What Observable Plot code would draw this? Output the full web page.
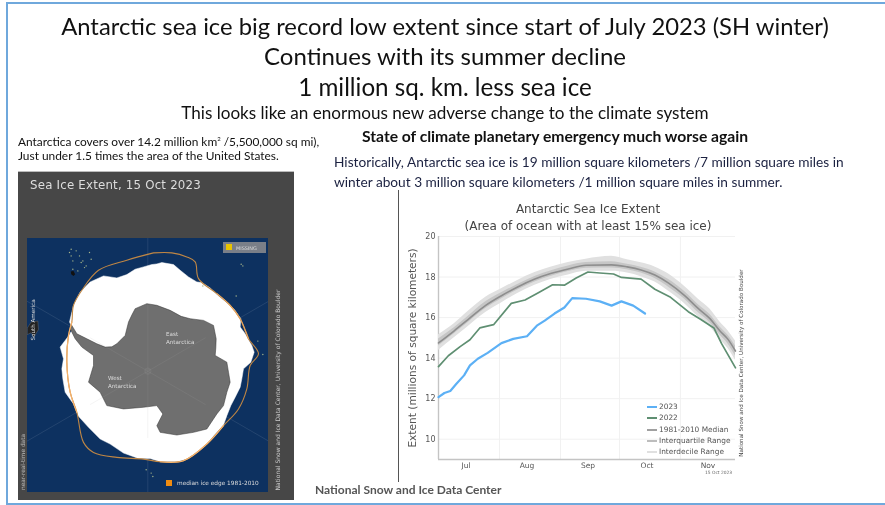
<!DOCTYPE html>
<html><head><meta charset="utf-8">
<script src="https://cdn.jsdelivr.net/npm/d3@7"></script>
<script src="https://cdn.jsdelivr.net/npm/@observablehq/plot@0.6"></script>
<style>
html,body{margin:0;padding:0;background:#fff;}
#page{position:relative;width:885px;height:505px;overflow:hidden;background:#fff;font-family:Lato,sans-serif;filter:blur(0.4px);}
#page>div{position:absolute;white-space:nowrap;}
.c{left:0;width:890px;text-align:center;color:#111;line-height:1;}
.dj{font-family:"DejaVu Sans",sans-serif;}
</style></head><body><div id="page"></div>
<script>
// --- line chart data (millions of square km) ---
const dates2023=["07-01","07-04","07-07","07-10","07-14","07-17","07-21","07-26","08-02","08-08","08-15","08-20","08-24","08-29","09-03","09-07","09-14","09-21","09-27","10-02","10-08","10-14"];
const extent2023=[12.08,12.28,12.38,12.72,13.15,13.64,13.97,14.26,14.74,14.95,15.08,15.6,15.85,16.2,16.5,16.96,16.93,16.8,16.59,16.8,16.59,16.2];
const dates2022=["07-01","07-06","07-12","07-17","07-22","07-29","08-07","08-14","08-21","08-28","09-03","09-09","09-15","09-21","09-28","10-02","10-12","10-19","10-27","11-05","11-11","11-18","11-22","11-29"];
const extent2022=[13.58,14.12,14.57,14.91,15.49,15.65,16.7,16.87,17.24,17.62,17.6,17.95,18.25,18.2,18.15,17.98,17.9,17.4,17.0,16.29,15.93,15.49,14.7,13.52];
const datesClim=["07-01","07-09","07-16","07-25","08-02","08-10","08-19","08-27","09-05","09-14","09-27","10-05","10-12","10-19","10-26","11-03","11-10","11-16","11-21","11-25","11-29"];
const median=[14.75,15.35,15.9,16.6,17.08,17.5,17.9,18.17,18.4,18.58,18.6,18.5,18.35,18.1,17.7,17.1,16.45,15.95,15.35,14.95,14.35];
const iqLow=[14.6,15.2,15.75,16.45,16.92,17.35,17.76,18.03,18.27,18.43,18.45,18.36,18.2,17.93,17.5,16.92,16.25,15.75,15.15,14.72,14.1];
const iqHigh=[14.95,15.5,16.05,16.78,17.22,17.62,18.03,18.3,18.55,18.72,18.76,18.63,18.48,18.25,17.88,17.3,16.65,16.15,15.55,15.15,14.6];
const decLow=[14.38,15.0,15.55,16.25,16.72,17.18,17.6,17.88,18.1,18.28,18.28,18.2,18.02,17.75,17.3,16.7,16.05,15.55,14.95,14.5,13.9];
const decHigh=[15.15,15.7,16.3,17.0,17.42,17.82,18.22,18.48,18.72,18.88,19.02,18.85,18.7,18.5,18.15,17.55,16.92,16.42,15.8,15.38,14.85];
const monthStarts=["08-01","09-01","10-01","11-01"];
const monthLabels=["07-15","08-15","09-15","10-15","11-15"];
const yTicks=[10,12,14,16,18,20];
const legendLabels=["2023","2022","1981-2010 Median","Interquartile Range","Interdecile Range"];

// --- map outlines, polar-grid km east / north of the South Pole ---
const landX=[-2280,-2130,-1830,-1530,-1280,-1080,-930,-680,-580,-480,-380,-30,270,670,1000,1270,1670,1970,2050,2040,2020,2370,2420,2470,2370,2270,2070,1770,1370,870,370,270,450,270,-130,-730,-1230,-1430,-1780,-1630,-1630,-1980,-2180,-2330];
const landY=[1370,1120,970,820,720,730,820,1070,1470,1680,1870,2020,1970,1820,1640,1570,1520,1370,970,700,470,270,-30,-330,-630,-1030,-1280,-1730,-1830,-1910,-1830,-1630,-1280,-1030,-1080,-1130,-1030,-630,-330,170,470,720,970,1270];
const iceX=[120,270,420,770,970,1220,1470,1620,1870,2120,2370,2590,2790,2770,2920,3120,3190,3090,2870,2820,2770,2620,2490,2370,2270,2020,1770,1520,1170,870,370,70,-280,-730,-1130,-1430,-1780,-2080,-2230,-2480,-2550,-2580,-2530,-2630,-2480,-2380,-2250,-2350,-2230,-2030,-1730,-1330,-930,-630,-380,-130];
const iceY=[3190,3210,3250,3190,3020,2820,2670,2650,2490,2250,2050,1850,1570,1320,1120,770,570,270,70,-230,-480,-780,-1030,-1330,-1610,-1880,-2180,-2400,-2630,-2710,-2710,-2610,-2610,-2450,-2180,-2030,-1680,-1350,-980,-630,-230,70,370,720,920,1050,1270,1470,1970,2370,2670,2850,2790,2890,3050,3120];
const edgeX=[170,720,1170,1420,1520,2070,2470,2770,3020,3320,3070,2970,2720,2270,1770,1070,370,-130,-930,-1630,-1930,-2130,-2330,-2430,-2380,-2280,-2230,-1980,-1480,-630,170];
const edgeY=[3540,3540,3420,3270,2770,2320,1970,1570,970,520,170,-530,-1130,-1630,-2180,-2680,-2710,-2630,-2580,-2430,-2130,-1230,-630,270,1070,1470,1970,2420,3020,3320,3540];
const islandX=[-2350,-2300,-2250,-2150,-2050,-1950,-1850,-2250,-2000,-1750,-2100,-1900,-2300,-1700,2800,2850,3300,3450,100,150,-50,1650,2650];
const islandY=[3550,3450,3300,3600,3450,3300,3150,3050,3250,3550,3000,3100,3650,3350,3200,3150,900,500,-3050,-3150,-2950,2550,2250];
const blobX=[-2310,-2230,-2180,-2230,-2300];
const blobY=[2980,3000,2900,2850,2900];
const spikeX=[-3610,-3500,-3300,-3280,-3420,-3500,-3610];
const spikeY=[1300,1470,1500,1250,1020,1150,1100];
const gridRadii=[1000,2000,3000,4000];
const gridBearings=[0,60,120,180,240,300];

const md=s=>new Date("2023-"+s+"T00:00:00Z");
const zip=(d,k)=>d.map((t,i)=>Object.fromEntries([["date",md(t)],...Object.entries(k).map(([n,a])=>[n,a[i]])]));
const pts=(X,Y)=>X.map((x,i)=>({x,y:Y[i]}));
const s2023=zip(dates2023,{v:extent2023}), s2022=zip(dates2022,{v:extent2022});
const clim=zip(datesClim,{m:median,a:iqLow,b:iqHigh,c:decLow,d:decHigh});
const edge=pts(edgeX,edgeY);
const page=document.getElementById("page");
function html(css,text,cls){const e=document.createElement("div");if(cls)e.className=cls;e.style.cssText=css;e.innerHTML=text;page.appendChild(e);return e;}

// frame
html("left:6px;top:2px;width:900px;height:499px;border-top:2px solid #6fa8dc;border-left:2px solid #6fa8dc;border-bottom:2px solid #6fa8dc;box-sizing:content-box;","");
// headline text
html("top:15px;font-size:23.8px;","Antarctic sea ice big record low extent since start of July 2023 (SH winter)","c");
html("top:44px;font-size:24px;","Continues with its summer decline","c");
html("top:75px;font-size:24.2px;","1 million sq. km. less sea ice","c");
html("top:104px;font-size:17.1px;","This looks like an enormous new adverse change to the climate system","c");
html("left:18px;top:134px;font-size:11.9px;color:#111;","Antarctica covers over 14.2 million km<sup style='font-size:6px;line-height:0'>2</sup> /5,500,000 sq mi),");
html("left:18px;top:148px;font-size:11.9px;color:#111;","Just under 1.5 times the area of the United States.");
html("left:362px;top:127px;font-size:15.7px;font-weight:700;color:#111;letter-spacing:-.02px;","State of climate planetary emergency much worse again");
html("left:334px;top:153px;font-size:13.7px;color:#1b2140;","Historically, Antarctic sea ice is 19 million square kilometers /7 million square miles in");
html("left:334px;top:173px;font-size:13.7px;color:#1b2140;","winter about 3 million square kilometers /1 million square miles in summer.");
html("left:315px;top:482px;font-size:12px;font-weight:700;color:#555;","National Snow and Ice Data Center");
html("left:398px;top:190px;width:1px;height:292px;background:#555;","");

// map panel
html("left:18px;top:171px;width:276px;height:329px;background:#474747;border-top:1px solid #bbb;box-sizing:border-box;","");
html("left:30px;top:178px;font-size:11.8px;color:#ddd;letter-spacing:.2px;","Sea Ice Extent, 15 Oct 2023","dj");

const spoke=(len,o)=>Plot.link(gridBearings,{x1:()=>0,y1:()=>0,x2:d=>len*Math.sin(d*Math.PI/180),y2:d=>len*Math.cos(d*Math.PI/180),strokeWidth:.6,clip:true,...o});
const mapPlot=Plot.plot({
  width:241,height:254,margin:0,
  x:{domain:[-3610,3620],axis:null},
  y:{domain:[-3630,3970],axis:null},
  style:{background:"#0d3160",display:"block"},
  marks:[
    Plot.dot(gridRadii,{x:()=>0,y:()=>0,r:d=>d/30,stroke:"#fff",strokeOpacity:.16,strokeWidth:.7,clip:true}),
    spoke(6000,{stroke:"#fff",strokeOpacity:.16}),
    Plot.line(pts(iceX,iceY),{x:"x",y:"y",fill:"#fff",stroke:"#fff",strokeWidth:.5,curve:"linear-closed"}),
    Plot.dot(gridRadii.slice(2,3),{x:()=>0,y:()=>0,r:d=>d/30,stroke:"#889",strokeOpacity:.14,strokeWidth:.6}),
    Plot.line(pts(landX,landY),{x:"x",y:"y",fill:"#6f6f6f",stroke:"#333",strokeWidth:.5,curve:"linear-closed"}),
    Plot.dot(gridRadii.slice(0,2),{x:()=>0,y:()=>0,r:d=>d/30,stroke:"#aaa",strokeOpacity:.22,strokeWidth:.6}),
    spoke(2000,{stroke:"#aaa",strokeOpacity:.22}),
    Plot.line(edge,{x:"x",y:"y",stroke:"#bf8644",strokeWidth:1.1,curve:"catmull-rom"}),
    Plot.line(edge.slice(21,26),{x:"x",y:"y",stroke:"#f6b26b",strokeWidth:1.2,curve:"catmull-rom"}),
    Plot.line(edge.slice(13,17),{x:"x",y:"y",stroke:"#f6b26b",strokeWidth:1.2,curve:"catmull-rom"}),
    Plot.line(edge.slice(5,9),{x:"x",y:"y",stroke:"#e5a45f",strokeWidth:1.2,curve:"catmull-rom"}),
    Plot.dot(pts(islandX,islandY),{x:"x",y:"y",r:.7,fill:"#a5b58a"}),
    Plot.line(pts(blobX,blobY),{x:"x",y:"y",fill:"#111",stroke:"none",curve:"linear-closed"}),
    Plot.line(pts(spikeX,spikeY),{x:"x",y:"y",fill:"#222",stroke:"#777",strokeWidth:.4,curve:"linear-closed"})
  ]});
const mapBox=html("left:27px;top:238px;width:241px;height:254px;","");
mapBox.appendChild(mapPlot);

const mapText="font-size:5.6px;color:#ddd;line-height:7.5px;text-align:left;";
html("left:166px;top:331px;"+mapText,"East<br>Antarctica","dj");
html("left:108px;top:375px;"+mapText,"West<br>Antarctica","dj");
html("left:223px;top:242px;width:43px;height:11px;background:#7a7f88;","");
html("left:226px;top:244px;width:6px;height:6px;background:#e8c400;","");
html("left:236px;top:245px;font-size:4.9px;color:#ddd;","MISSING","dj");
html("left:166px;top:480px;width:6px;height:6px;background:#f08c10;","");
html("left:177px;top:480px;font-size:5.8px;color:#ddd;","median ice edge 1981-2010","dj");
const rot=(cx,cy,size,color,text)=>html(`left:${cx}px;top:${cy}px;font-size:${size}px;color:${color};transform:translate(-50%,-50%) rotate(-90deg);`,text,"dj");
rot(33,320,5.6,"#ddd","South America");
rot(23,462,5.8,"#bbb","near-real-time data");
rot(277,390,6,"#ccc","National Snow and Ice Data Center, University of Colorado Boulder");

// line chart
const chart=Plot.plot({
  width:370,height:300,marginLeft:38,marginRight:35,marginTop:46,marginBottom:31,
  style:{background:"transparent",color:"#555",fontFamily:"DejaVu Sans",display:"block"},
  x:{type:"utc",domain:[md("07-01"),md("11-29")]},
  y:{domain:[9,20]},
  marks:[
    Plot.ruleY(yTicks,{stroke:"#f1f1f1",strokeWidth:1}),
    Plot.ruleX(monthStarts.map(md),{stroke:"#f1f1f1",strokeWidth:1}),
    Plot.ruleX([md("07-01")],{stroke:"#c4c4c4",strokeWidth:1.4}),
    Plot.ruleY([9],{stroke:"#c4c4c4",strokeWidth:1.4}),
    Plot.areaY(clim,{x:"date",y1:"c",y2:"d",fill:"#e0e0e0",curve:"monotone-x"}),
    Plot.areaY(clim,{x:"date",y1:"a",y2:"b",fill:"#c6c6c6",curve:"monotone-x"}),
    Plot.line(clim,{x:"date",y:"m",stroke:"#8e8e8e",strokeWidth:1.6,curve:"monotone-x"}),
    Plot.line(s2022,{x:"date",y:"v",stroke:"#5f8f72",strokeWidth:1.7}),
    Plot.line(s2023,{x:"date",y:"v",stroke:"#5cb0f5",strokeWidth:2.2}),
    Plot.axisY({ticks:yTicks,tickSize:0,tickPadding:3,fontSize:8,label:null}),
    Plot.axisY({ticks:[],tickSize:0,label:"Extent (millions of square kilometers)",labelAnchor:"center",labelArrow:"none",labelOffset:30,fontSize:10.6}),
    Plot.axisX({ticks:monthLabels.map(md),tickSize:0,tickPadding:3,tickFormat:d3.utcFormat("%b"),fontSize:7.5,label:null})
  ]});
const chartBox=html("left:400px;top:190px;width:370px;height:300px;","");
chartBox.appendChild(chart);
html("left:588px;top:202px;font-size:12px;color:#444;transform:translateX(-50%);","Antarctic Sea Ice Extent","dj");
html("left:588px;top:219px;font-size:12px;color:#444;transform:translateX(-50%);","(Area of ocean with at least 15% sea ice)","dj");
const swatchColors=["#5cb0f5","#5f8f72","#a0a0a0","#bdbdbd","#e0e0e0"];
legendLabels.forEach((t,i)=>{
  const top=[407,418,430,441,452][i];
  html(`left:647px;top:${top-1}px;width:10px;height:2px;background:${swatchColors[i]};`,"");
  html(`left:659px;top:${top-5}px;font-size:7.4px;color:#555;`,t,"dj");
});
html("left:705px;top:470px;font-size:4.4px;color:#666;","15 Oct 2023","dj");
rot(741,363,5.6,"#444","National Snow and Ice Data Center, University of Colorado Boulder");
</script></body></html>
